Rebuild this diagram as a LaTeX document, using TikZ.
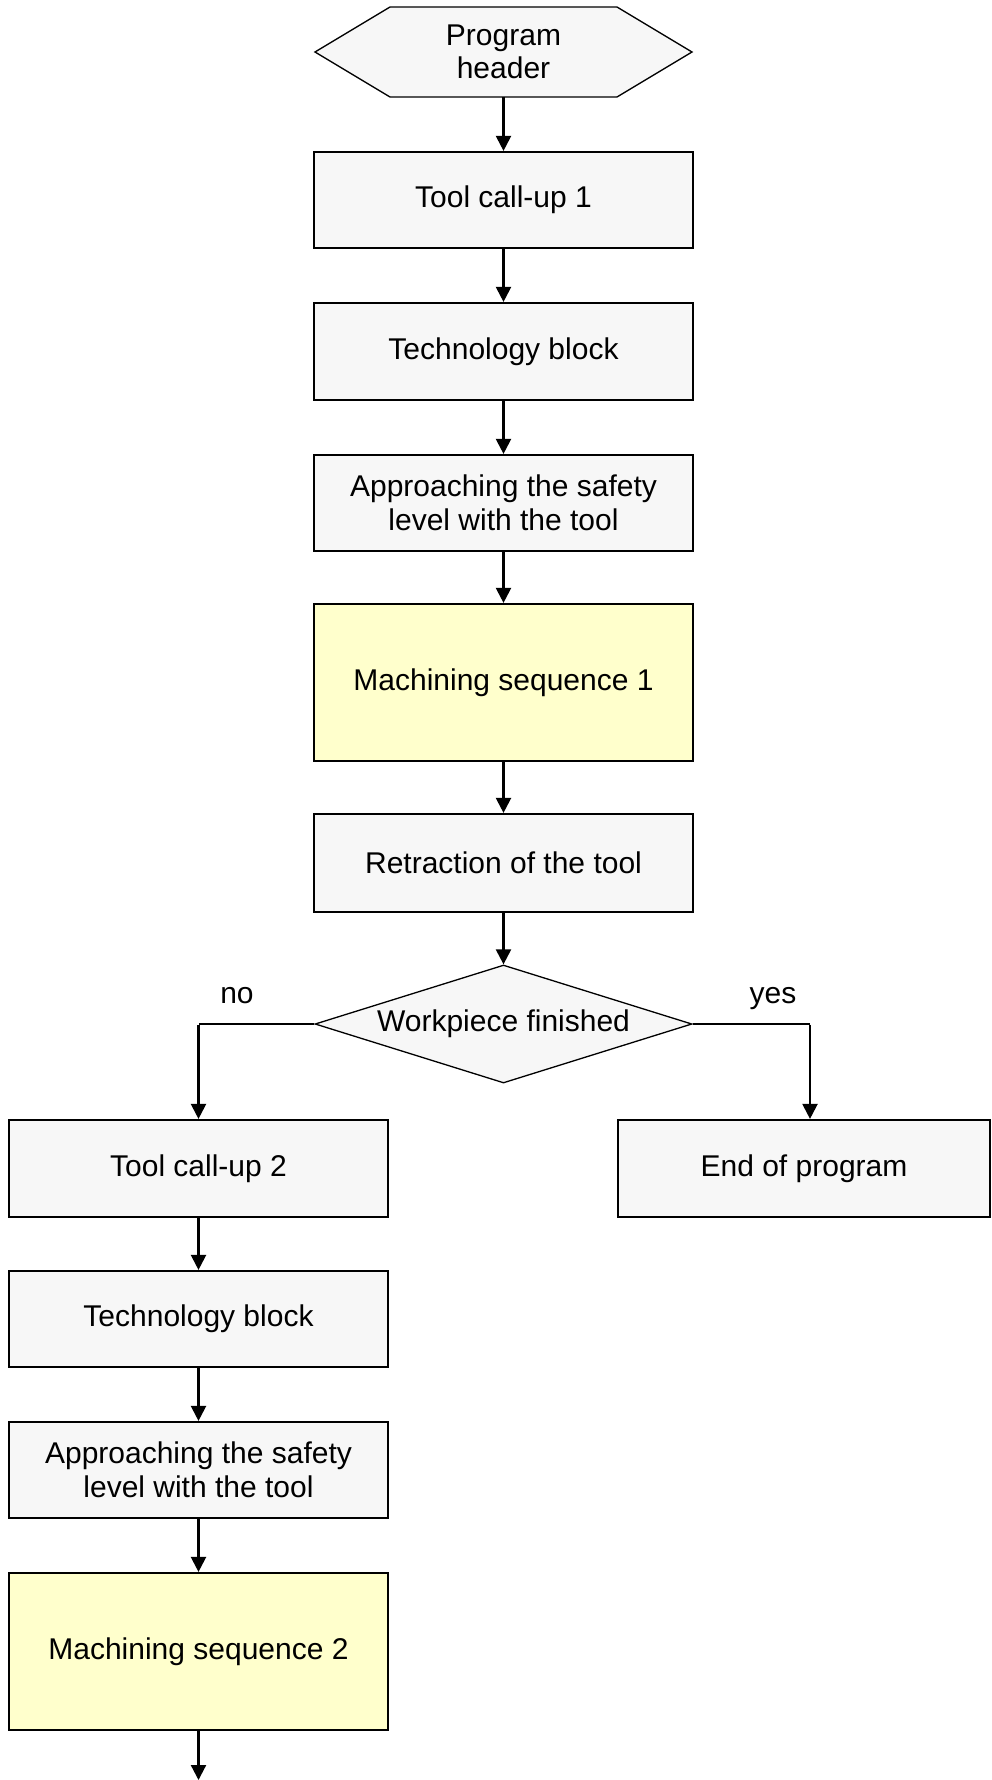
\documentclass[tikz,border=0pt]{standalone}
\usepackage{fontspec}
\setmainfont{Liberation Sans}
\usetikzlibrary{shapes.geometric,arrows.meta}
\definecolor{boxgray}{HTML}{F7F7F7}
\definecolor{boxyellow}{HTML}{FFFFCC}
\begin{document}
\begin{tikzpicture}[x=1pt,y=-1pt,
  every node/.style={font=\fontsize{30}{33.5}\selectfont, align=center},
  stepbox/.style={draw=black, line width=2.2pt, fill=boxgray, inner sep=0pt},
  yelbox/.style={stepbox, fill=boxyellow},
  conn/.style={line width=2.2pt, -{Triangle[length=15pt,width=15pt]}},
  thinconn/.style={line width=1.3pt}]
\useasboundingbox[fill=white] (0,0) rectangle (991,1780);
% header hexagon
\draw[line width=1.3pt, fill=boxgray] (315,52) -- (390,7) -- (617,7) -- (692,52) -- (617,97) -- (390,97) -- cycle;
\node[minimum width=377pt, minimum height=90pt, inner sep=0pt] (hdr) at (503.5,52) {Program\\header};
\node[stepbox, minimum width=379pt, minimum height=96pt] (b1) at (503.5,200) {Tool call-up 1};
\node[stepbox, minimum width=379pt, minimum height=97pt] (b2) at (503.5,351.5) {Technology block};
\node[stepbox, minimum width=379pt, minimum height=96pt] (b3) at (503.5,503) {Approaching the safety\\level with the tool};
\node[yelbox, minimum width=379pt, minimum height=157pt] (b4) at (503.5,682.5) {Machining sequence 1};
\node[stepbox, minimum width=379pt, minimum height=98pt] (b5) at (503.5,863) {Retraction of the tool};
\node[draw=black, line width=1.3pt, fill=boxgray, shape=diamond, aspect=3.2, inner sep=0pt, minimum width=377pt, minimum height=118pt] (dia) at (503.5,1024) {Workpiece finished};
\node[stepbox, minimum width=379pt, minimum height=97pt] (l1) at (198.5,1168.5) {Tool call-up 2};
\node[stepbox, minimum width=379pt, minimum height=96pt] (l2) at (198.5,1319) {Technology block};
\node[stepbox, minimum width=379pt, minimum height=96pt] (l3) at (198.5,1470) {Approaching the safety\\level with the tool};
\node[yelbox, minimum width=379pt, minimum height=157pt] (l4) at (198.5,1651.5) {Machining sequence 2};
\node[stepbox, minimum width=372pt, minimum height=97pt] (r1) at (804,1168.5) {End of program};
\node[anchor=base] (no) at (237,1003) {no};
\node[anchor=base] (yes) at (773,1003) {yes};
\coordinate (endpt) at (198.5,1780);
\coordinate (rtop) at (810,1024);
\draw[conn] (hdr.south) -- (b1.north);
\draw[conn] (b1.south) -- (b2.north);
\draw[conn] (b2.south) -- (b3.north);
\draw[conn] (b3.south) -- (b4.north);
\draw[conn] (b4.south) -- (b5.north);
\draw[conn] (b5.south) -- (dia.north);
\draw[thinconn] (dia.west) -- (l1.north |- dia.west);
\draw[conn] ([yshift=-0.6pt]l1.north |- dia.west) -- (l1.north);
\draw[thinconn] (dia.east) -- (rtop);
\draw[conn] ([yshift=-0.6pt]rtop) -- (rtop |- r1.north);
\draw[conn] (l1.south) -- (l2.north);
\draw[conn] (l2.south) -- (l3.north);
\draw[conn] (l3.south) -- (l4.north);
\draw[conn] (l4.south) -- (endpt);
\end{tikzpicture}
\end{document}
